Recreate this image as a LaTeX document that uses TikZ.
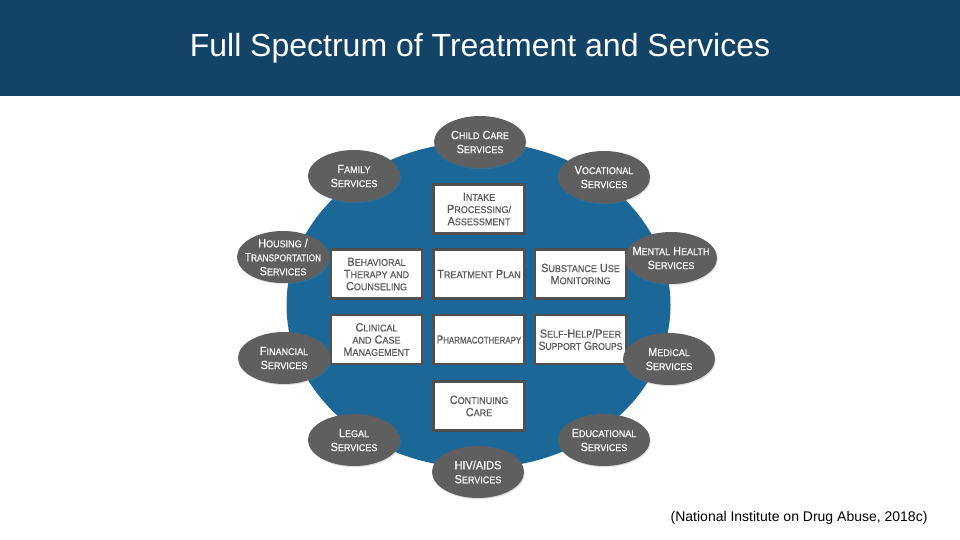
\documentclass[tikz,border=0pt]{standalone}
\usepackage{fontspec}
\setmainfont{Liberation Sans}
\newfontfamily\tagfont[FakeStretch=0.92,FakeBold=0.4]{Liberation Sans}
\usetikzlibrary{shapes.geometric,shadows}

\definecolor{headblue}{HTML}{134366}
\definecolor{ringblue}{HTML}{1B6898}
\definecolor{pillgrey}{HTML}{5F5F5F}
\definecolor{framegrey}{HTML}{505050}
\definecolor{inkgrey}{HTML}{5A5A5A}

% smaller capitals for the fake small caps
\newcommand{\lc}[1]{{\fontsize{9.8}{12}\selectfont #1}}

\tikzset{
  service/.style={ellipse, fill=pillgrey, minimum width=92pt, minimum height=52pt,
    inner xsep=-14pt, inner ysep=-2pt, text=white, align=center,
    font=\tagfont\fontsize{11.9}{14}\selectfont,
    drop shadow={shadow xshift=0.8pt, shadow yshift=-1.2pt, opacity=0.25}},
  stage/.style={rectangle, draw=framegrey, line width=2.4pt, fill=white,
    minimum width=91pt, minimum height=49pt, inner sep=0pt, text=inkgrey,
    align=center, font=\tagfont\fontsize{11.9}{12.2}\selectfont,
    drop shadow={shadow xshift=1pt, shadow yshift=-1.2pt, opacity=0.3}}
}

\begin{document}
\begin{tikzpicture}[x=1pt, y=-1pt]
    \useasboundingbox (0,0) rectangle (960,540);

    % Title bar
    \fill [headblue] (0,0) rectangle (960,96);
    \node [text=white, font=\fontsize{32}{36}\selectfont] (title) at (480,48)
        {Full Spectrum of Treatment and Services};

    % Blue disc
    \node [ellipse, fill=ringblue, minimum width=384pt, minimum height=326pt,
        inner sep=0pt] (ring) at (478.5,305) {};

    % Centre boxes
    \node [stage] (intake) at (479,209) {I\lc{NTAKE}\\P\lc{ROCESSING/}\\A\lc{SSESSMENT}};
    \node [stage] (behave) at (376.5,274) {B\lc{EHAVIORAL}\\T\lc{HERAPY AND}\\C\lc{OUNSELING}};
    \node [stage] (plan) at (479,274) {T\lc{REATMENT} P\lc{LAN}};
    \node [stage] (monitor) at (580.5,274) {S\lc{UBSTANCE} U\lc{SE}\\M\lc{ONITORING}};
    \node [stage] (clinical) at (376.5,339.5) {C\lc{LINICAL}\\\lc{AND} C\lc{ASE}\\M\lc{ANAGEMENT}};
    \node [stage] (pharma) at (479,339.5) {\scalebox{0.88}[1]{P\lc{HARMACOTHERAPY}}};
    \node [stage] (peer) at (580.5,339.5) {S\lc{ELF}-H\lc{ELP}/P\lc{EER}\\\scalebox{0.95}[1]{S\lc{UPPORT} G\lc{ROUPS}}};
    \node [stage] (continue) at (479,406) {C\lc{ONTINUING}\\C\lc{ARE}};

    % Surrounding services
    \node [service] (child) at (480,142) {C\lc{HILD} C\lc{ARE}\\S\lc{ERVICES}};
    \node [service] (family) at (354,176) {F\lc{AMILY}\\S\lc{ERVICES}};
    \node [service] (vocation) at (604,177) {V\lc{OCATIONAL}\\S\lc{ERVICES}};
    \node [service] (housing) at (283,257) {H\lc{OUSING} /\\\scalebox{0.92}[1]{T\lc{RANSPORTATION}}\\S\lc{ERVICES}};
    \node [service] (mental) at (671,258) {M\lc{ENTAL} H\lc{EALTH}\\S\lc{ERVICES}};
    \node [service] (finance) at (284,358) {F\lc{INANCIAL}\\S\lc{ERVICES}};
    \node [service] (medical) at (669,359) {M\lc{EDICAL}\\S\lc{ERVICES}};
    \node [service] (legal) at (354,440) {L\lc{EGAL}\\S\lc{ERVICES}};
    \node [service] (school) at (604,440) {E\lc{DUCATIONAL}\\S\lc{ERVICES}};
    \node [service] (hiv) at (478,472) {HIV/AIDS\\S\lc{ERVICES}};

    % Source
    \node [anchor=east, font=\fontsize{14}{16}\selectfont] (source) at (931,518)
        {(National Institute on Drug Abuse, 2018c)};
\end{tikzpicture}
\end{document}
